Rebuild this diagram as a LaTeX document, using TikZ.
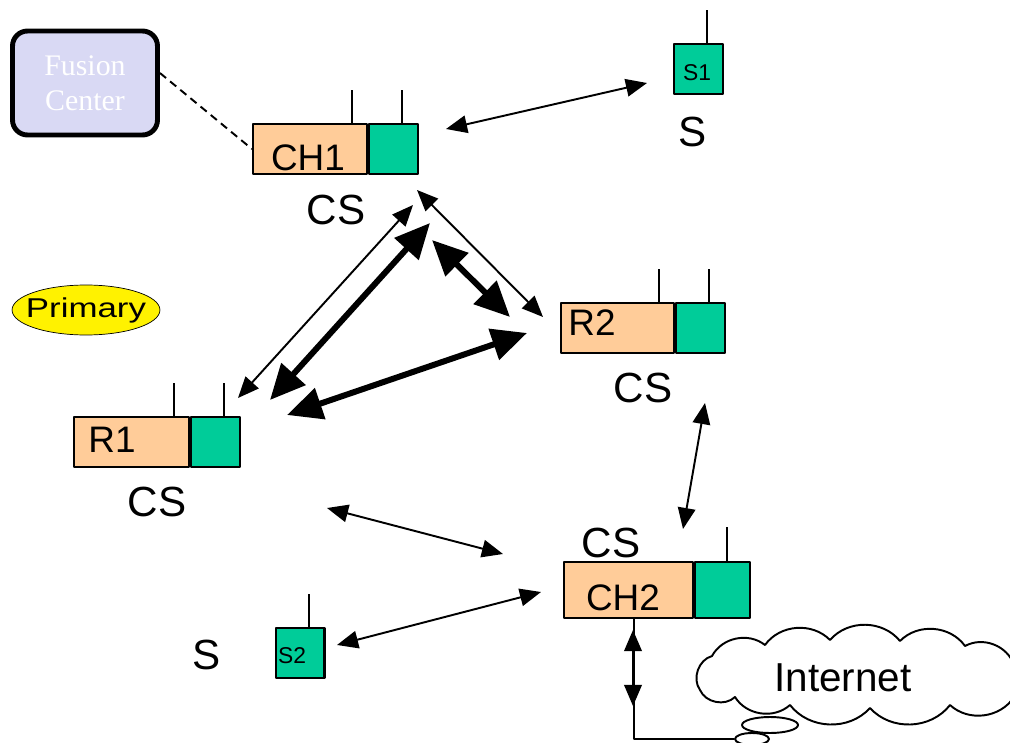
\documentclass[tikz,border=0pt]{standalone}
\usepackage{fontspec}
\setmainfont{Liberation Sans}
\newfontfamily\fcfont{Liberation Serif}
\usetikzlibrary{arrows.meta,shapes.geometric}
\definecolor{peach}{HTML}{FFCC99}
\definecolor{sea}{HTML}{00CC99}
\definecolor{lilac}{HTML}{D9D9F4}
\begin{document}
\begin{tikzpicture}[x=0.02cm,y=-0.02cm, line join=round,
	radio/.style={draw,line width=1.2pt,fill=peach,minimum height=1cm,inner sep=0pt,anchor=north west},
	chip/.style={draw,line width=1.2pt,fill=sea,minimum height=1cm,minimum width=0.97cm,inner sep=0pt,anchor=north west},
	lbl/.style={inner sep=0pt,font=\fontsize{21}{24}\selectfont},
	tag/.style={inner sep=0pt,font=\fontsize{24}{28}\selectfont},
	link/.style={{Triangle[length=12pt,width=10pt]}-{Triangle[length=12pt,width=10pt]},line width=1.1pt},
	boldlink/.style={{Triangle[length=20pt,width=18pt]}-{Triangle[length=20pt,width=18pt]},line width=3.4pt}]
	% --- Khung hình ---
	\clip (0,0) rectangle (1010,743);
	% --- Fusion Center và Primary ---
	\node[draw,line width=2.8pt,rounded corners=0.3cm,fill=lilac,minimum width=2.9cm,minimum height=2.08cm,
		text=white,align=center,font=\fcfont\fontsize{17}{20}\selectfont] (fc) at (85,83) {Fusion\\Center};
	\node[ellipse,draw,fill=yellow,minimum height=1cm,inner xsep=-4.4pt,inner ysep=0pt,
		font=\fontsize{15.5}{18}\selectfont] (prim) at (86,310) {\scalebox{1.28}[1]{Primary}};
	% --- Các nút ---
	\node[radio,minimum width=2.28cm] (ch1) at (252,123) {};
	\node[chip] (ch1g) at (ch1.north east) {};
	\node[radio,minimum width=2.26cm] (r2) at (560,302) {};
	\node[chip] (r2g) at (r2.north east) {};
	\node[radio,minimum width=2.3cm] (r1) at (73,416) {};
	\node[chip] (r1g) at (r1.north east) {};
	\node[radio,minimum width=2.58cm,minimum height=1.12cm] (ch2) at (563,561) {};
	\node[chip,minimum width=1.1cm,minimum height=1.12cm] (ch2g) at (ch2.north east) {};
	\node[chip] (s1) at (673,43) {};
	\node[chip] (s2) at (275,627) {};
	% --- Ăng-ten ---
	\foreach \n in {ch1,ch1g,r1,r1g,r2,r2g,s1,s2}
		\draw[line width=1.1pt] ([xshift=-0.33cm]\n.north east) -- ++(0,-33);
	\draw[line width=1.1pt] ([xshift=-0.48cm]ch2g.north east) -- ++(0,-34);
	% --- Nhãn ---
	\node[lbl] (ch1t) at (308,158) {CH1};
	\node[lbl] (r2t) at (592,323) {R2};
	\node[lbl] (r1t) at (112,440) {R1};
	\node[lbl] (ch2t) at (623,598) {CH2};
	\node[inner sep=0pt,font=\fontsize{13}{15}\selectfont] (s1t) at (697,73) {S1};
	\node[inner sep=0pt,font=\fontsize{13}{15}\selectfont] (s2t) at (292,656) {S2};
	\node[tag] (cs1) at (336,210) {CS};
	\node[tag] (cs2) at (643,388) {CS};
	\node[tag] (cs3) at (157,502) {CS};
	\node[tag] (cs4) at (611,543) {CS};
	\node[tag] (sa) at (693,132) {S};
	\node[tag] (sb) at (207,655) {S};
	% --- Internet (đám mây) ---
	\draw[line width=1.1pt,fill=white] (700,690) to[bend left=55] (712,656) to[bend left=50] (765,645)
		to[bend left=50] (830,640) to[bend left=50] (900,641) to[bend left=50] (965,646)
		to[bend left=50] (1014,665) to[bend left=50] (1014,697) to[bend left=50] (950,705)
		to[bend left=50] (870,708) to[bend left=50] (790,705) to[bend left=50] (735,697)
		to[bend left=55] cycle;
	\node[inner sep=0pt,font=\fontsize{23}{26}\selectfont] (net) at (843,678) {Internet};
	\node[ellipse,draw,line width=1.1pt,fill=white,minimum width=1.12cm,minimum height=0.32cm,inner sep=0pt] (bub1) at (770,725) {};
	\node[ellipse,draw,line width=1.1pt,fill=white,minimum width=0.68cm,minimum height=0.24cm,inner sep=0pt] (bub2) at (752,739) {};
	\draw[line width=1.1pt] ([xshift=0.11cm]ch2.south) |- (bub2.west);
	% --- Các liên kết ---
	\coordinate (p1) at (446,129); \coordinate (p2) at (647,83);
	\coordinate (p3) at (413,205); \coordinate (p4) at (238,398);
	\coordinate (p5) at (417,190); \coordinate (p6) at (543,317);
	\coordinate (p7) at (430,223); \coordinate (p8) at (270,400);
	\coordinate (p9) at (432,240); \coordinate (p10) at (510,317);
	\coordinate (p11) at (287,415); \coordinate (p12) at (527,333);
	\coordinate (p13) at (327,508); \coordinate (p14) at (503,554);
	\coordinate (p15) at (705,403); \coordinate (p16) at (683,529);
	\coordinate (p17) at (337,645); \coordinate (p18) at (541,592);
	\coordinate (p19) at (633,630); \coordinate (p20) at (633,706);
	\draw[link] (p1) -- (p2);
	\draw[link] (p3) -- (p4);
	\draw[link] (p5) -- (p6);
	\draw[boldlink] (p7) -- (p8);
	\draw[boldlink] (p9) -- (p10);
	\draw[boldlink] (p11) -- (p12);
	\draw[link] (p13) -- (p14);
	\draw[link] (p15) -- (p16);
	\draw[link] (p17) -- (p18);
	\draw[link] (p19) -- (p20);
	\draw[dashed,line width=1.1pt,dash pattern=on 4.5pt off 3pt] ([yshift=0.2cm]fc.east) -- (ch1.west);
\end{tikzpicture}
\end{document}
